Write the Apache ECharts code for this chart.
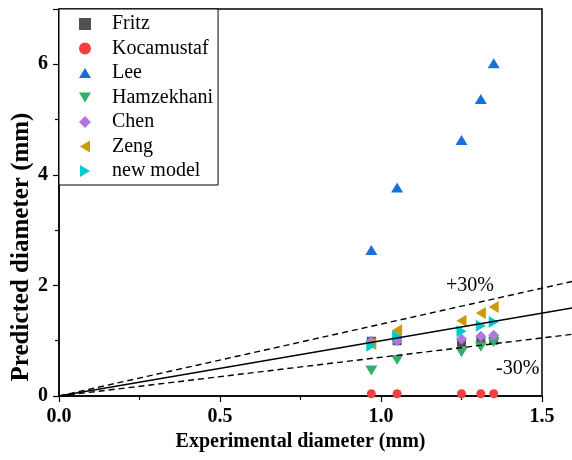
<!DOCTYPE html>
<html>
<head>
<meta charset="utf-8">
<script src="https://cdn.jsdelivr.net/npm/echarts@6/dist/echarts.min.js"></script>
<style>
html,body{margin:0;padding:0;background:#fff;}
#chart{width:572px;height:460px;}
</style>
</head>
<body>
<div id="chart"></div>
<script>
// ---- data ----
const expDiameter = [0.97, 1.05, 1.25, 1.31, 1.35];
const fritz       = [0.99, 1.00, 0.97, 1.00, 1.01];
const kocamustaf  = [0.04, 0.04, 0.04, 0.04, 0.04];
const lee         = [2.64, 3.77, 4.63, 5.37, 6.02];
const hamzekhani  = [0.46, 0.65, 0.79, 0.89, 0.97];
const chen        = [0.99, 1.00, 1.03, 1.08, 1.10];
const zeng        = [0.94, 1.19, 1.36, 1.50, 1.61];
const newModel    = [0.91, 1.08, 1.17, 1.27, 1.34];
const ratioIdeal  = 1.0;
const ratioUpper  = 1.3;
const ratioLower  = 0.7;
const xTicks = [0, 0.5, 1.0, 1.5];
const yTicks = [0, 2, 4, 6];
const xMax = 1.5, yMax = 7;

const FONT = '"Liberation Serif", "Times New Roman", serif';

const gridLeft = 59, gridRight = 30, gridTop = 9, gridBottom = 64, W = 572;
const plotW = W - gridLeft - gridRight;
// second (hidden) grid spans to the canvas edge with the same x scale,
// so the reference lines run past the frame like in the original
const xMaxExt = xMax * (W - gridLeft) / plotW;
const refLineX = [0, xMaxExt];

function pairs(ys){ return expDiameter.map((x,i)=>[x, ys[i]]); }
function refLine(r){ return refLineX.map(x=>[x, x*r]); }

const seriesDefs = [
  {name:'Fritz', data:fritz, color:'#515151', symbol:'rect', size:[9,9], rot:0, icon:'rect'},
  {name:'Kocamustaf', data:kocamustaf, color:'#F14040', symbol:'circle', size:[9,9], rot:0, icon:'circle'},
  {name:'Lee', data:lee, color:'#1A6FDF', symbol:'triangle', size:[12,10], rot:0, icon:'path://M6,0 L12,10 L0,10 Z'},
  {name:'Hamzekhani', data:hamzekhani, color:'#37AD6B', symbol:'triangle', size:[12,10], rot:180, icon:'path://M0,0 L12,0 L6,10 Z'},
  {name:'Chen', data:chen, color:'#B177DE', symbol:'diamond', size:[11,11], rot:0, icon:'diamond'},
  {name:'Zeng', data:zeng, color:'#CC9900', symbol:'triangle', size:[12,10], rot:90, icon:'path://M0,6 L10,0 L10,12 Z'},
  {name:'new model', data:newModel, color:'#00CBCC', symbol:'triangle', size:[12,10], rot:-90, icon:'path://M0,0 L10,6 L0,12 Z'}
];

const series = seriesDefs.map(d=>({
  name:d.name, type:'scatter', data:pairs(d.data), xAxisIndex:0, yAxisIndex:0,
  symbol:d.symbol, symbolSize:d.size, symbolRotate:d.rot,
  itemStyle:{color:d.color, opacity:1}, z:3
}));

const lineStyleBase = {color:'#000', width:1.4};
series.push(
  {name:'ideal', type:'line', data:refLine(ratioIdeal), xAxisIndex:1, yAxisIndex:1, showSymbol:false, silent:true,
   lineStyle:Object.assign({}, lineStyleBase, {type:'solid'}), z:4},
  {name:'upper', type:'line', data:refLine(ratioUpper), xAxisIndex:1, yAxisIndex:1, showSymbol:false, silent:true,
   lineStyle:Object.assign({}, lineStyleBase, {type:[6,4]}), z:4},
  {name:'lower', type:'line', data:refLine(ratioLower), xAxisIndex:1, yAxisIndex:1, showSymbol:false, silent:true,
   lineStyle:Object.assign({}, lineStyleBase, {type:[6,4]}), z:4}
);

const chart = echarts.init(document.getElementById('chart'), null, {renderer:'canvas'});
chart.setOption({
  backgroundColor:'#fff',
  animation:false,
  grid:[
    {left:gridLeft, right:gridRight, top:gridTop, bottom:gridBottom, show:true, borderColor:'#000', borderWidth:1.5, backgroundColor:'transparent'},
    {left:gridLeft, right:0, top:gridTop, bottom:gridBottom, show:false}
  ],
  xAxis:[{
    type:'value', gridIndex:0, min:xTicks[0], max:xMax, interval:0.5,
    name:'Experimental diameter (mm)', nameLocation:'middle', nameGap:30,
    nameTextStyle:{fontFamily:FONT, fontSize:20, fontWeight:'bold', color:'#000'},
    axisLine:{show:true, lineStyle:{color:'#000', width:1.5}},
    axisTick:{show:true, inside:false, length:6, lineStyle:{color:'#000', width:1.2}},
    minorTick:{show:true, splitNumber:2, length:4, lineStyle:{color:'#000', width:1.2}},
    splitLine:{show:false},
    axisLabel:{fontFamily:FONT, fontSize:20, fontWeight:'bold', color:'#000', margin:11,
      formatter:v=>v.toFixed(1)}
  },{
    type:'value', gridIndex:1, min:0, max:xMaxExt, show:false
  }],
  yAxis:[{
    type:'value', gridIndex:0, min:0, max:yMax, interval:2,
    axisLine:{show:true, lineStyle:{color:'#000', width:1.5}},
    axisTick:{show:true, inside:false, length:6, lineStyle:{color:'#000', width:1.2}},
    minorTick:{show:true, splitNumber:2, length:4, lineStyle:{color:'#000', width:1.2}},
    splitLine:{show:false},
    axisLabel:{fontFamily:FONT, fontSize:20, fontWeight:'bold', color:'#000', margin:11,
      formatter:v=> yTicks.indexOf(v) >= 0 ? String(v) : ''}
  },{
    type:'value', gridIndex:1, min:0, max:yMax, show:false
  }],
  legend:{
    data:seriesDefs.map(d=>({name:d.name, icon:d.icon})),
    orient:'vertical', left:59, top:9,
    backgroundColor:'#fff', borderColor:'#000', borderWidth:1,
    padding:[5, 5, 4, 20],
    itemWidth:12, itemHeight:12, itemGap:4.5,
    textStyle:{fontFamily:FONT, fontSize:20, color:'#000', lineHeight:20, padding:[0,0,0,16]},
    selectedMode:false
  },
  graphic:[
    {type:'text', left:446, top:276, style:{text:'+30%', font:'20px '+FONT, fill:'#000'}},
    {type:'text', left:496, top:359, style:{text:'-30%', font:'20px '+FONT, fill:'#000'}},
    {type:'text', x:22, y:247, rotation:Math.PI/2,
     style:{text:'Predicted diameter (mm)', font:'bold 25px '+FONT, fill:'#000', align:'center', verticalAlign:'middle'}}
  ],
  series:series
});
</script>
</body>
</html>
